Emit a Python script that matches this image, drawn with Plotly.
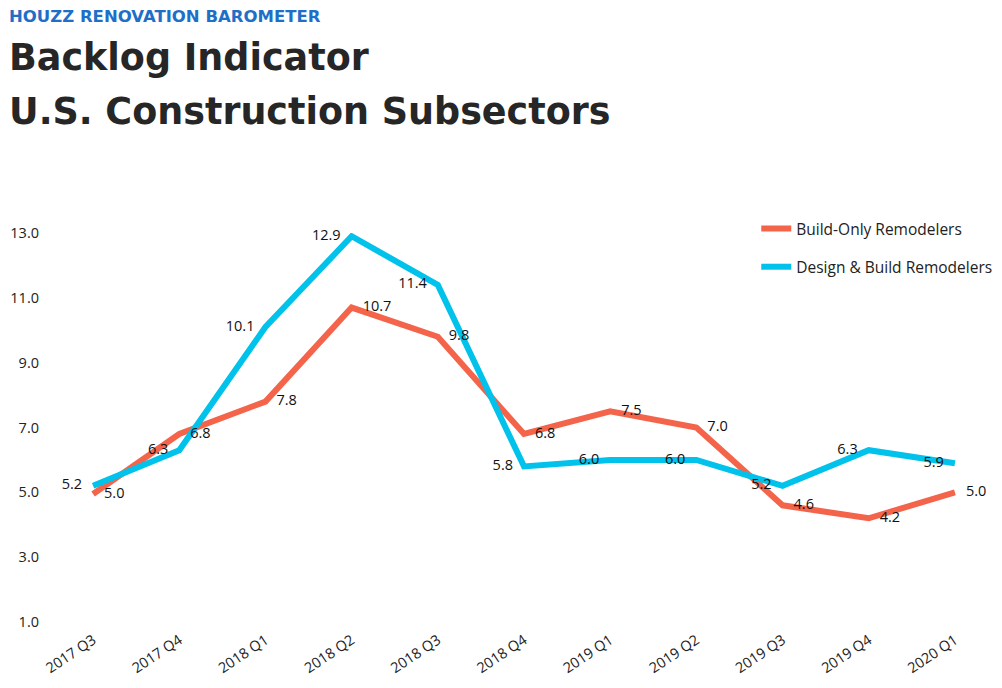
import plotly.graph_objects as go

quarters = ["2017 Q3", "2017 Q4", "2018 Q1", "2018 Q2", "2018 Q3", "2018 Q4",
            "2019 Q1", "2019 Q2", "2019 Q3", "2019 Q4", "2020 Q1"]
build_only = [4.95, 6.8, 7.8, 10.7, 9.8, 6.8, 7.5, 7.0, 4.6, 4.2, 5.0]
design_build = [5.2, 6.3, 10.1, 12.9, 11.4, 5.8, 6.0, 6.0, 5.2, 6.3, 5.9]
y_ticks = [1.0, 3.0, 5.0, 7.0, 9.0, 11.0, 13.0]

RED = "#F4644B"
BLUE = "#00C2EB"
FONT = "Open Sans"
TITLE_FONT = "DejaVu Sans"

# page body offsets the figure by 8px; figure is sized to fill the rest
W, H = 994, 680
L, R, T, B = 42, 4, 225, 66
PW, PH = W - L - R, H - T - B

fig = go.Figure()
fig.add_trace(go.Scatter(
    x=quarters, y=build_only, name="Build-Only Remodelers",
    mode="lines", line=dict(color=RED, width=6), legendgroup="a",
))
fig.add_trace(go.Scatter(
    x=quarters, y=design_build, name="Design & Build Remodelers",
    mode="lines", line=dict(color=BLUE, width=6), legendgroup="b",
))
fig.add_trace(go.Scatter(
    x=quarters, y=build_only, mode="markers+text", showlegend=False,
    marker=dict(size=16, opacity=0, color=RED),
    text=[f"{v:.1f}" for v in build_only], textposition="middle right",
    textfont=dict(family=FONT, size=14.5, color="#111"), cliponaxis=False,
    hoverinfo="skip",
))
fig.add_trace(go.Scatter(
    x=quarters, y=design_build, mode="markers+text", showlegend=False,
    marker=dict(size=16, opacity=0, color=BLUE),
    text=[f"{v:.1f}" for v in design_build], textposition="middle left",
    textfont=dict(family=FONT, size=14.5, color="#111"), cliponaxis=False,
    hoverinfo="skip",
))

fig.update_layout(
    width=W, height=H,
    margin=dict(l=L, r=R, t=T, b=B, autoexpand=False),
    paper_bgcolor="white", plot_bgcolor="white",
    font=dict(family=FONT, size=14.5, color="#222"),
    showlegend=True,
    legend=dict(x=0.745, y=1.054, xanchor="left", yanchor="top",
                traceorder="grouped", tracegroupgap=15,
                font=dict(family=FONT, size=15.5, color="#222"),
                bgcolor="rgba(0,0,0,0)"),
    xaxis=dict(type="category", range=[-0.5, 10.5], showgrid=False,
               showline=False, zeroline=False, tickangle=-34,
               ticklabelstandoff=6,
               tickfont=dict(family=FONT, size=14.5, color="#222")),
    yaxis=dict(range=[1, 13], tickvals=y_ticks,
               ticktext=[f"{v:.1f}" for v in y_ticks],
               showgrid=False, showline=False, zeroline=False,
               ticklabelstandoff=10,
               tickfont=dict(family=FONT, size=14.5, color="#222")),
)

def py(page_y):
    return 1 + (T - (page_y - 8)) / PH

def px(page_x):
    return ((page_x - 8) - L) / PW

fig.add_annotation(text="<b>HOUZZ RENOVATION BAROMETER</b>", xref="paper", yref="paper",
                   x=px(7), y=py(17), xanchor="left", yanchor="middle",
                   showarrow=False, font=dict(family=TITLE_FONT, size=16.5, color="#1E6FC8"))
fig.add_annotation(text="<b>Backlog Indicator</b>", xref="paper", yref="paper",
                   x=px(7), y=py(57), xanchor="left", yanchor="middle",
                   showarrow=False, font=dict(family=TITLE_FONT, size=36.5, color="#262626"))
fig.add_annotation(text="<b>U.S. Construction Subsectors</b>", xref="paper", yref="paper",
                   x=px(7), y=py(112), xanchor="left", yanchor="middle",
                   showarrow=False, font=dict(family=TITLE_FONT, size=36.5, color="#262626"))

fig.write_html("out.html")
